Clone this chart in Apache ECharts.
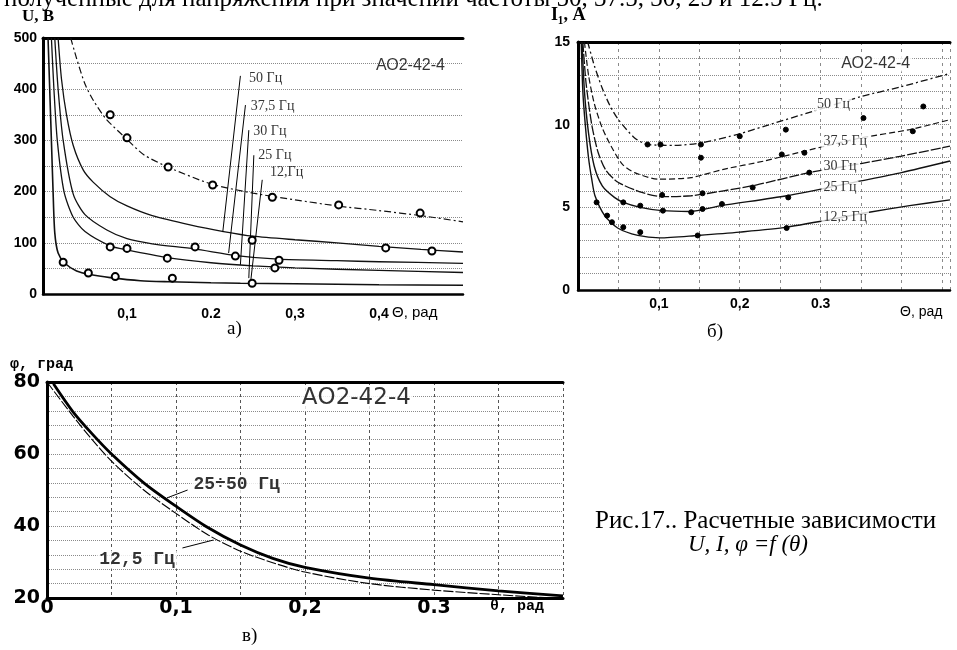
<!DOCTYPE html>
<html><head><meta charset="utf-8">
<script src="https://cdn.jsdelivr.net/npm/echarts@6/dist/echarts.min.js"></script>
<style>html,body{margin:0;padding:0;background:#fff}#c{width:957px;height:650px}</style>
</head><body><div id="c"></div>
<script>
// ---------- chart а) U(θ) ----------
const U50_line  = [[0.033,500],[0.04,460],[0.05,410],[0.06,378],[0.075,342],[0.1,302],[0.12,272],[0.15,247],[0.2,215],[0.25,197],[0.3,184],[0.35,172],[0.4,163],[0.45,153],[0.5,141]];
const U50_pts   = [[0.08,350],[0.1,305],[0.149,248],[0.202,213],[0.273,189],[0.352,174],[0.449,158]];
const U375_line = [[0.018,500],[0.022,420],[0.028,350],[0.036,290],[0.048,242],[0.06,218],[0.08,190],[0.1,172],[0.13,153],[0.175,135],[0.215,122],[0.25,113],[0.3,106],[0.35,100],[0.4,93],[0.45,87],[0.5,82]];
const U375_pts  = [[0.249,105],[0.408,90],[0.463,84]];
const U30_line  = [[0.014,500],[0.018,400],[0.024,300],[0.036,195],[0.05,155],[0.076,125],[0.1,108],[0.13,98],[0.18,88],[0.23,75],[0.28,68],[0.35,65],[0.4,63],[0.5,60]];
const U30_pts   = [[0.181,92],[0.229,74],[0.281,66]];
const U25_line  = [[0.01,500],[0.013,400],[0.017,300],[0.025,200],[0.036,150],[0.05,122],[0.08,94],[0.1,86],[0.148,71],[0.2,61],[0.25,55],[0.3,51],[0.4,46],[0.5,42]];
const U25_pts   = [[0.08,92],[0.1,89],[0.148,70],[0.276,51]];
const U125_line = [[0.006,500],[0.008,400],[0.01,300],[0.012,200],[0.014,120],[0.018,80],[0.026,60],[0.04,45],[0.056,38],[0.08,32],[0.116,26],[0.15,24],[0.2,22],[0.235,21],[0.3,20],[0.4,18],[0.5,17]];
const U125_pts  = [[0.024,62],[0.054,41],[0.086,34],[0.154,31],[0.249,21]];
const A_tickX   = ['', '0,1', '0.2', '0,3', '0,4', ''];
const A_labels  = [[0.243,422,'50 Гц'],[0.245,367,'37,5 Гц'],[0.248,318,'30 Гц'],[0.254,271,'25 Гц'],[0.268,238,'12,Гц'],[0.394,447,'АО2-42-4']];
const A_leaders = [[[0.235,426],[0.214,121]],[[0.241,369],[0.221,80]],[[0.245,320],[0.235,57]],[[0.251,271],[0.245,31]],[[0.261,223],[0.247,21]]];

// ---------- chart б) I1(θ) ----------
const I50_line  = [[0.012,15],[0.02,13.6],[0.03,12.2],[0.04,11.1],[0.05,10.3],[0.07,9.2],[0.086,8.8],[0.12,8.75],[0.153,8.9],[0.2,9.45],[0.23,9.9],[0.29,10.8],[0.35,11.7],[0.4,12.3],[0.46,13.1]];
const I50_pts   = [[0.086,8.8],[0.102,8.8],[0.152,8.8],[0.2,9.3],[0.257,9.7],[0.353,10.4],[0.427,11.1]];
const I375_line = [[0.008,15],[0.013,13],[0.02,11.3],[0.03,9.8],[0.042,8.6],[0.055,7.6],[0.07,7.1],[0.1,6.7],[0.14,6.8],[0.18,7.3],[0.23,7.8],[0.28,8.4],[0.35,9.2],[0.41,9.7],[0.46,10.3]];
const I375_pts  = [[0.152,8.0],[0.252,8.2],[0.28,8.3],[0.414,9.6]];
const I30_line  = [[0.006,15],[0.01,12.5],[0.017,10],[0.025,8.3],[0.035,7.2],[0.05,6.5],[0.079,5.9],[0.104,5.65],[0.14,5.7],[0.18,6.0],[0.22,6.35],[0.286,7.1],[0.35,7.65],[0.4,8.1],[0.46,8.7]];
const I30_pts   = [[0.104,5.75],[0.154,5.85],[0.216,6.2],[0.286,7.1]];
const I25_line  = [[0.005,15],[0.008,12],[0.013,9.5],[0.02,7.5],[0.03,6.3],[0.045,5.6],[0.056,5.3],[0.077,5.0],[0.104,4.8],[0.138,4.75],[0.177,5.1],[0.258,5.7],[0.35,6.6],[0.4,7.1],[0.46,7.8]];
const I25_pts   = [[0.056,5.3],[0.077,5.1],[0.105,4.8],[0.14,4.7],[0.154,4.9],[0.178,5.2],[0.26,5.6]];
const I125_line = [[0.004,15],[0.006,12],[0.009,10],[0.013,8],[0.017,6.7],[0.021,5.7],[0.033,4.5],[0.049,3.75],[0.074,3.3],[0.101,3.15],[0.148,3.3],[0.2,3.5],[0.258,3.8],[0.36,4.7],[0.41,5.1],[0.46,5.45]];
const I125_pts  = [[0.023,5.3],[0.036,4.5],[0.042,4.1],[0.056,3.8],[0.077,3.5],[0.148,3.3],[0.258,3.75]];
const B_tickX   = ['', '0,1', '0,2', '0.3', '', ''];
const B_labels  = [[0.293,11.2,'50 Гц'],[0.301,9.0,'37,5 Гц'],[0.301,7.45,'30 Гц'],[0.301,6.2,'25 Гц'],[0.301,4.4,'12,5 Гц'],[0.323,13.7,'АО2-42-4']];

// ---------- chart в) φ(θ) ----------
const P2550_line = [[0.005,79.5],[0.02,71.8],[0.035,65.6],[0.05,60],[0.075,52],[0.1,45.5],[0.125,39.5],[0.15,34.7],[0.175,31],[0.2,28.5],[0.25,25.5],[0.3,23.7],[0.35,22],[0.4,20.6]];
const P125_line  = [[0,80],[0.02,70.6],[0.035,64],[0.05,58],[0.075,50],[0.1,43.5],[0.125,37.5],[0.15,33],[0.175,29.8],[0.2,27.2],[0.25,24],[0.3,22.2],[0.35,20.9],[0.4,19.8]];
const C_tickX    = ['0', '0,1', '0,2', '0.3', ''];
const C_labels   = [[0.112,51.4,'25÷50 Гц'],[0.039,30.6,'12,5 Гц'],[0.196,75.6,'АО2-42-4']];
const C_leaders  = [[[0.093,47.8],[0.109,50]],[[0.105,33.9],[0.129,36.1]]];

const SERIF = 'Liberation Serif, Times New Roman, serif';
const SANS  = 'Liberation Sans, Arial, sans-serif';
const MONO  = 'Liberation Mono, DejaVu Sans Mono, monospace';
const DV    = 'DejaVu Sans, sans-serif';

const chart = echarts.init(document.getElementById('c'));

function curve(data, i, style, sm) {
  return {type:'line', xAxisIndex:i, yAxisIndex:i, data, showSymbol:false, smooth:(sm===undefined?0.25:sm),
    lineStyle:Object.assign({color:'#111', width:1.3}, style||{}), silent:true, z:3, animation:false};
}
function pts(data, i, o) {
  return {type:'scatter', xAxisIndex:i, yAxisIndex:i, data, symbol:'circle', symbolSize:o.size,
    itemStyle:{color:o.fill, borderColor:'#000', borderWidth:o.bw, opacity:1}, silent:true, z:5, animation:false};
}
function labels(data, i, font, bg) {
  return {type:'scatter', xAxisIndex:i, yAxisIndex:i, symbolSize:0, silent:true, z:6, animation:false,
    data:data.map(d=>({value:[d[0],d[1]], name:d[2]})),
    label:Object.assign({show:true, position:'right', distance:0, formatter:'{b}', color:'#000',
      backgroundColor:bg||'transparent', padding:[0,2]}, font)};
}
function leader(seg, i) {
  return {type:'line', xAxisIndex:i, yAxisIndex:i, data:seg, showSymbol:false, silent:true, z:4,
    lineStyle:{color:'#000', width:1}, animation:false};
}
function tickFmt(arr, step) { return v => { const k = Math.round(v/step); return arr[k] !== undefined ? arr[k] : ''; }; }

const dotted = {show:true, lineStyle:{color:'#8a8a8a', type:'dotted', width:1}};
const dashedV = {show:true, lineStyle:{color:'#8a8a8a', type:[3,4], width:1}};

const series = [];
// а)
series.push(curve(U50_line,0,{type:[7,3,2,3], width:1.2}));
series.push(curve(U375_line,0,{width:1.3}));
series.push(curve(U30_line,0,{width:1.3}));
series.push(curve(U25_line,0,{width:1.3}));
series.push(curve(U125_line,0,{width:1.6}));
[U50_pts,U375_pts,U30_pts,U25_pts,U125_pts].forEach(d=>series.push(pts(d,0,{size:7,fill:'#fff',bw:2})));
A_leaders.forEach(s=>series.push(leader(s,0)));
series.push(labels(A_labels.slice(0,5),0,{fontFamily:SERIF, fontSize:14}));
series.push(labels(A_labels.slice(5),0,{fontFamily:SANS, fontSize:16}));
// б)
series.push(curve(I50_line,1,{type:[7,3,2,3], width:1.3}));
series.push(curve(I375_line,1,{type:[6,3], width:1.2}));
series.push(curve(I30_line,1,{type:[10,2], width:1.3}));
series.push(curve(I25_line,1,{width:1.4}));
series.push(curve(I125_line,1,{width:1.4}));
[I50_pts,I375_pts,I30_pts,I25_pts,I125_pts].forEach(d=>series.push(pts(d,1,{size:5,fill:'#000',bw:1})));
series.push(labels(B_labels.slice(0,5),1,{fontFamily:SERIF, fontSize:14},'#fff'));
series.push(labels(B_labels.slice(5),1,{fontFamily:SANS, fontSize:16},'#fff'));
// в)
series.push(curve(P2550_line,2,{width:2.8, color:'#000'}, 0.3));
series.push(curve(P125_line,2,{width:1.1, type:[10,2], color:'#000'}, 0.3));
C_leaders.forEach(s=>series.push(leader(s,2)));
series.push(labels(C_labels.slice(0,2),2,{fontFamily:MONO, fontSize:18, fontWeight:'bold'},'#fff'));
series.push(labels(C_labels.slice(2),2,{fontFamily:DV, fontSize:23},'#fff'));

function topAxis(i, min, max){
  return {gridIndex:i, type:'value', position:'top', min, max, axisLine:{show:true, onZero:false, lineStyle:{color:'#000', width:3}},
    axisTick:{show:false}, axisLabel:{show:false}, splitLine:{show:false}};
}

const option = {
  backgroundColor:'#fff',
  animation:false,
  grid:[
    {left:43, top:38, width:420, height:256},
    {left:578, top:42, width:372, height:248},
    {left:47, top:382, width:516, height:216}
  ],
  xAxis:[
    {gridIndex:0, type:'value', min:0, max:0.5, interval:0.1,
      axisLine:{onZero:false, lineStyle:{color:'#000', width:2.5}}, axisTick:{show:false},
      axisLabel:{formatter:tickFmt(A_tickX,0.1), fontFamily:SANS, fontWeight:'bold', fontSize:14, color:'#000', margin:13},
      splitLine:{show:false}},
    {gridIndex:1, type:'value', min:0, max:0.46, interval:0.1,
      axisLine:{onZero:false, lineStyle:{color:'#000', width:2.5}}, axisTick:{show:false},
      axisLabel:{formatter:tickFmt(B_tickX,0.1), fontFamily:SANS, fontWeight:'bold', fontSize:14, color:'#000', margin:7, showMaxLabel:false},
      splitLine:dashedV, minorTick:{show:false, splitNumber:2}, minorSplitLine:dashedV},
    {gridIndex:2, type:'value', min:0, max:0.4, interval:0.1,
      axisLine:{onZero:false, lineStyle:{color:'#000', width:3}}, axisTick:{show:false},
      axisLabel:{formatter:tickFmt(C_tickX,0.1), fontFamily:DV, fontWeight:'bold', fontSize:19, color:'#000', margin:1, align:'center'},
      splitLine:{show:true, lineStyle:{color:'#555', type:[3,3], width:1}}, minorTick:{show:false, splitNumber:2},
      minorSplitLine:{show:true, lineStyle:{color:'#555', type:[3,3], width:1}}},
    topAxis(0,0,0.5), topAxis(1,0,0.46), topAxis(2,0,0.4)
  ],
  yAxis:[
    {gridIndex:0, type:'value', min:0, max:500, interval:100,
      axisLine:{show:true, onZero:false, lineStyle:{color:'#000', width:3}}, axisTick:{show:false},
      axisLabel:{fontFamily:SANS, fontWeight:'bold', fontSize:14, color:'#000', margin:6},
      splitLine:dotted, minorTick:{show:false, splitNumber:2}, minorSplitLine:dotted},
    {gridIndex:1, type:'value', min:0, max:15, interval:5,
      axisLine:{show:true, onZero:false, lineStyle:{color:'#000', width:3}}, axisTick:{show:false},
      axisLabel:{fontFamily:SANS, fontWeight:'bold', fontSize:14, color:'#000', margin:8},
      splitLine:dotted, minorTick:{show:false, splitNumber:5}, minorSplitLine:dotted},
    {gridIndex:2, type:'value', min:20, max:80, interval:20,
      axisLine:{show:true, onZero:false, lineStyle:{color:'#000', width:3}}, axisTick:{show:false},
      axisLabel:{fontFamily:DV, fontWeight:'bold', fontSize:19, color:'#000', margin:7},
      splitLine:dotted, minorTick:{show:false, splitNumber:5}, minorSplitLine:dotted}
  ],
  series,
  graphic:[
    {type:'text', left:4, top:-13, style:{text:'полученные для напряжения при значении частоты 50, 37.5, 30, 25 и 12.5 Гц.', font:'25px '+SERIF, fill:'#000'}},
    {type:'text', left:22, top:8, style:{text:'U, В', font:'bold 17px '+SERIF, fill:'#000'}},
    {type:'text', left:551, top:6, style:{text:'I₁, A', font:'bold 18px '+SERIF, fill:'#000'}},
    {type:'text', left:10, top:357, style:{text:'φ, град', font:'bold 15px '+MONO, fill:'#000'}},
    {type:'text', left:392, top:305, style:{text:'Θ, рад', font:'15px '+SANS, fill:'#000'}},
    {type:'text', left:900, top:305, style:{text:'Θ, рад', font:'14px '+SANS, fill:'#000'}},
    {type:'text', left:490, top:599, style:{text:'θ, рад', font:'bold 15px '+MONO, fill:'#000'}},
    {type:'text', left:227, top:320, style:{text:'а)', font:'19px '+SERIF, fill:'#000'}},
    {type:'text', left:707, top:323, style:{text:'б)', font:'19px '+SERIF, fill:'#000'}},
    {type:'text', left:242, top:627, style:{text:'в)', font:'19px '+SERIF, fill:'#000'}},
    {type:'text', left:595, top:509, style:{text:'Рис.17.. Расчетные зависимости', font:'25px '+SERIF, fill:'#000'}},
    {type:'text', left:688, top:533, style:{text:'U, I, φ =f (θ)', font:'italic 23px '+SERIF, fill:'#000'}}
  ]
};
chart.setOption(option);
</script></body></html>
